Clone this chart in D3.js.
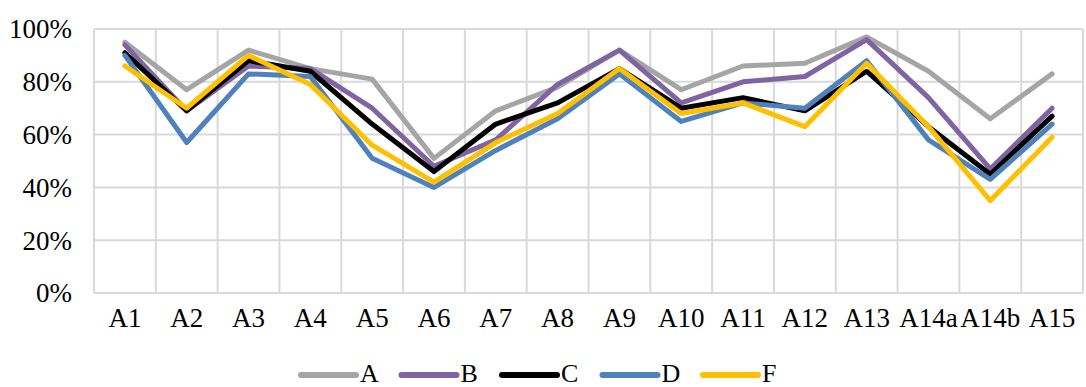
<!DOCTYPE html>
<html>
<head>
<meta charset="utf-8">
<script src="https://cdn.jsdelivr.net/npm/d3@7/dist/d3.min.js"></script>
<style>
  html, body { margin: 0; padding: 0; background: #fff; }
  svg { display: block; }
  text { font-family: "Liberation Serif", "Times New Roman", serif; fill: #000; }
</style>
</head>
<body>
<script>
// Item categories along the x axis
const categories = ["A1", "A2", "A3", "A4", "A5", "A6", "A7", "A8", "A9", "A10", "A11", "A12", "A13", "A14a", "A14b", "A15"];

// Share per item for each group (percent)
const seriesA = [95, 77, 92, 85, 81, 51, 69, 78, 92, 77, 86, 87, 97, 84, 66, 83];
const seriesB = [94, 69, 86, 85, 70, 48, 58, 79, 92, 72, 80, 82, 96, 74, 47, 70];
const seriesC = [91, 69, 88, 84, 64, 46, 64, 72, 85, 70, 74, 69, 84, 63, 45, 67];
const seriesD = [90, 57, 83, 82, 51, 40, 54, 66, 83, 65, 72, 70, 88, 58, 43, 64];
const seriesF = [86, 70, 90, 79, 56, 42, 57, 68, 85, 68, 72, 63, 87, 63, 35, 59];

const seriesNames = ["A", "B", "C", "D", "F"];
const seriesColors = ["#A5A5A5", "#8064A2", "#000000", "#4F81BD", "#FFC000"];
const yTicks = [0, 20, 40, 60, 80, 100];

const series = [seriesA, seriesB, seriesC, seriesD, seriesF].map((values, i) => ({
  name: seriesNames[i], color: seriesColors[i], values
}));

const W = 1086, H = 387;
const plot = { left: 94, right: 1083, top: 29, bottom: 293 };
const FONT = 27;

const svg = d3.select("body").append("svg").attr("width", W).attr("height", H);

const x = d3.scaleBand().domain(categories).range([plot.left, plot.right]);
const y = d3.scaleLinear().domain([0, 100]).range([plot.bottom, plot.top]);

const grid = svg.append("g").attr("stroke", "#D9D9D9").attr("stroke-width", 2).attr("fill", "none");

// horizontal gridlines
grid.selectAll("line.h").data(yTicks).join("line")
  .attr("x1", plot.left).attr("x2", plot.right)
  .attr("y1", d => y(d)).attr("y2", d => y(d));

// vertical gridlines at category boundaries
const bounds = categories.map(c => x(c)).concat([x.range()[1]]);
grid.selectAll("line.v").data(bounds).join("line")
  .attr("x1", d => d).attr("x2", d => d)
  .attr("y1", plot.top).attr("y2", plot.bottom);

// y axis labels
const yAxis = d3.axisLeft(y).tickValues(yTicks).tickFormat(d => d + "%").tickSize(0).tickPadding(22);
const gy = svg.append("g").attr("transform", `translate(${plot.left},0)`).call(yAxis);
gy.select(".domain").remove();
gy.selectAll("text").attr("font-family", "Liberation Serif, Times New Roman, serif")
  .attr("font-size", FONT).attr("fill", "#000").attr("dy", "0.33em");

// x axis labels
const xAxis = d3.axisBottom(x).tickSize(0).tickPadding(0);
const gx = svg.append("g").attr("transform", `translate(0,${plot.bottom})`).call(xAxis);
gx.select(".domain").remove();
gx.selectAll("text").attr("font-family", "Liberation Serif, Times New Roman, serif")
  .attr("font-size", FONT).attr("fill", "#000").attr("dy", null).attr("y", 34);

// series lines
const line = d3.line()
  .x((d, i) => x(categories[i]) + x.bandwidth() / 2)
  .y(d => y(d));

svg.append("g").selectAll("path").data(series).join("path")
  .attr("fill", "none")
  .attr("stroke", d => d.color)
  .attr("stroke-width", 5)
  .attr("stroke-linejoin", "round")
  .attr("stroke-linecap", "round")
  .attr("d", d => line(d.values));

// legend
const legend = svg.append("g").selectAll("g").data(series).join("g")
  .attr("transform", (d, i) => `translate(${301 + i * 100.5},375)`);
legend.append("line")
  .attr("x1", 0).attr("x2", 55).attr("y1", 0).attr("y2", 0)
  .attr("stroke", d => d.color).attr("stroke-width", 6).attr("stroke-linecap", "round");
legend.append("text")
  .attr("x", 59).attr("y", 7)
  .attr("font-size", FONT - 1)
  .text(d => d.name);
</script>
</body>
</html>
